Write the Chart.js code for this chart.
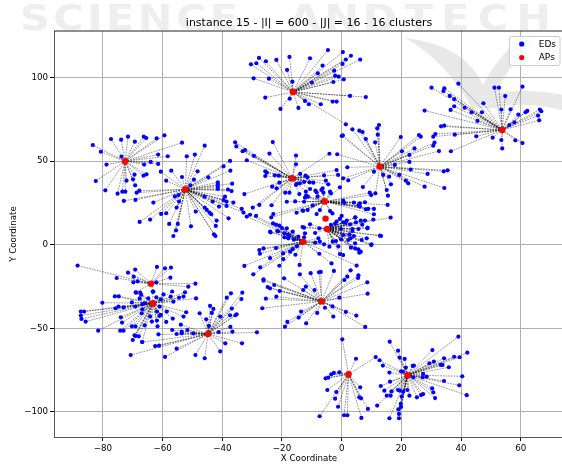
<!DOCTYPE html>
<html>
<head>
<meta charset="utf-8">
<title>instance 15</title>
<script src="https://cdn.jsdelivr.net/npm/chart.js@4/dist/chart.umd.js"></script>
<style>
  html, body { margin: 0; padding: 0; background: #fff; overflow: hidden; }
  #wrap { width: 562px; height: 465px; overflow: hidden; }
</style>
</head>
<body>
<div id="wrap"><canvas id="chart" width="570" height="465"></canvas></div>
<script>
const titleText = "instance 15 - |I| = 600 - |J| = 16 - 16 clusters";
const xTicks = [-80, -60, -40, -20, 0, 20, 40, 60];
const yTicks = [-100, -50, 0, 50, 100];

// access points, same order as the clusters below
const apX = [-72.6, -52.4, -16.3, -16.6, -5.7, 12.8, 53.8, -5.4, -4.9, -12.9, -6.7, -63.9, -63.3, -44.8, 2.3, 22.1];
const apY = [49.9, 33.1, 91.3, 39.7, 25.8, 46.7, 68.6, 15.6, 9.4, 1.8, -33.9, -23.3, -35, -53.4, -77.5, -78];

const cluster0 = [[-83.4,59.6],[-80.7,55.6],[-77.3,63.2],[-73.9,62.8],[-71.6,64.6],[-69.3,61.6],[-66.3,64.6],[-65.5,63.8],[-62,63.6],[-59.4,65.4],[-53.5,61],[-61.5,53.9],[-58.3,52.9],[-64,49.5],[-66.2,47.9],[-61.5,48.3],[-78.8,47.9],[-73.8,52.7],[-82.4,38.1],[-79.2,32.5],[-75.1,30.5],[-73.5,31.7],[-72.5,31.7],[-72.1,38.3],[-69.9,39.1],[-69.4,41.9],[-69.2,35.5],[-66.4,41.3],[-65.4,42.1]];
const cluster1 = [[-73,26.2],[-69.1,26.8],[-68.7,31.1],[-67.8,32.3],[-51.9,52.9],[-49.2,53.9],[-45.9,59.2],[-57.1,44.3],[-53.5,40.5],[-48.3,43.9],[-49.5,38.9],[-60.6,43.7],[-58.8,38.3],[-44.7,40.3],[-39.6,46.9],[-37.4,50.1],[-37.3,44.3],[-41.5,37.3],[-41.5,35.9],[-41.5,34.5],[-36.7,36.5],[-41.5,33.3],[-38.1,33],[-36.9,32.1],[-39.1,28.7],[-39.6,26.8],[-38.6,25.8],[-36.3,25.2],[-38.6,23.2],[-41.1,22.8],[-43.2,25.8],[-46,28.7],[-50.7,35.5],[-55.9,28.9],[-54.7,29.7],[-54.5,25.8],[-63.1,25.2],[-55.3,22.2],[-60.5,18.4],[-58.8,18.8],[-67.7,13.6],[-64.2,15],[-57.8,12.4],[-54.9,12.4],[-55.5,8.6],[-56.4,5.2],[-50.5,11],[-48.9,19.8],[-45.2,20.8],[-44.3,19.2],[-43.7,18.2],[-45.9,22.2],[-41.9,14.4],[-42.2,11.2],[-42.8,6.2],[-42.3,5.2],[-37.9,15.8],[-33.5,21.4],[-32.9,19.2]];
const cluster2 = [[-30.4,107.9],[-27.7,111.7],[-28.6,108.5],[-25.4,109.7],[-21.9,110.5],[-17.5,112.3],[-18.3,104.5],[-29.5,99.5],[-24.4,99.3],[-16.5,97.5],[-25.6,88],[-17.4,87.3],[-20.5,81.2],[-14.5,81.8],[-12.3,86],[-11,84],[-10.6,111.5],[-4.6,116.4],[0.4,115.2],[3.1,113],[1.4,110.7],[6.2,110.7],[0.3,108.1],[-6.4,107.1],[-2.5,104.1],[-2.2,101.1],[-1,100.5],[0.7,98.9],[-2.8,97.3],[2.8,89],[8.1,88.3],[-3,85.6],[-1.7,85.6],[-7,84],[1.4,72],[-8,102.5],[-10,97]];
const cluster3 = [[-35.7,61.2],[-35.3,58.8],[-33.2,55.9],[-32.4,56.6],[-29.4,53.1],[-31.8,50.5],[-23.1,61.4],[-24.2,54.5],[-15.3,53.3],[-15.3,48.1],[-25.6,43.9],[-25.1,43.1],[-25.6,41.1],[-22.4,41.5],[-21.1,41.3],[-23.3,34.7],[-20.9,37.1],[-21.8,33.7],[-32.6,30.3],[-27.6,23.8],[-29.8,22.2],[-23.5,23.6],[-18.9,31.1],[-17.5,31.1],[-15.3,35.7],[-13.9,42.3],[-4.1,54.4],[-1.7,44.6],[-1.2,41.7],[-5.9,41.4],[-12.1,41.3],[-11.5,40.3],[-14,36.7],[-15.1,36.3],[-12.6,37.5],[-10.8,37.3],[-9.5,37.1],[-10.6,33.3],[-14.2,30.3],[-12,31.7],[-5.3,38.3],[-4.5,36.1]];
const cluster4 = [[-18.4,25.7],[-15.6,25.9],[-12.6,25.7],[-12.3,28.1],[-11.3,28.7],[-8.8,32.3],[-6.8,32.7],[-6.4,33.7],[-6.1,31.1],[-3.9,31.7],[-0.6,34.3],[-8.1,28.7],[-9.7,23.5],[-7.3,20.7],[-8.4,18.3],[-12.9,20.3],[-11.4,20.7],[-15.1,19.1],[-22.9,18.3],[-23.6,16.3],[-3.9,20.1],[-3.1,18.7],[9.4,31.1],[9.9,29.7],[15.4,23.8],[10.8,21.4],[10.8,18.2],[8.9,21.4],[8.1,21.2],[7.8,25.4],[6.1,24.8],[5.6,23.4],[4.1,25.2],[6.1,22.8],[0.5,26.4],[0.9,25],[-3.6,30.7],[-8.4,31.3],[-11.9,29.4],[-13.1,20.4]];
const cluster5 = [[3.6,69],[5.9,68.2],[7,67.4],[0,65],[0.4,65.4],[8.1,63.2],[11.2,61.2],[11.9,69.6],[12.5,71.6],[12.1,65.8],[19.8,64.4],[25.9,65.6],[26.5,64.6],[31.1,61],[30.7,59.2],[24.4,57.6],[32.6,56],[20.2,55.9],[22.7,49.5],[22.7,53.7],[17.8,47.7],[-1.5,54.1],[1.9,46.3],[0.5,39.7],[2.2,38.5],[10.8,43.7],[7.1,34.5],[11.3,30.7],[15.1,32.7],[15.5,29.3],[16.5,36.1],[13.9,41.7],[19.3,41.7],[23.1,44.9],[21.5,38.3],[22.3,36.7],[27.8,34.7],[34.4,33.9],[28.8,42.3],[34.2,43.9],[35.5,44.5],[15.9,40.7]];
const cluster6 = [[39.1,96.3],[30.1,93.9],[34.4,93.5],[34.1,91.9],[36.2,89],[37.7,87.1],[47.5,84.6],[51.2,93.9],[52.7,93.9],[54.8,88.9],[60.6,94.5],[53.5,80.8],[56.6,81],[59.2,77.8],[62.2,80],[61.6,79.2],[66.4,80.8],[66.9,79.8],[65.8,77.2],[66.2,74.4],[57.9,73.2],[56.2,71.6],[37.7,82.8],[36.5,80.6],[27.8,80.2],[41.2,81.9],[43.5,79.2],[47,79.2],[45.5,74],[33.3,70.8],[34.4,71.2],[31.4,66.2],[30.7,64.6],[37.9,65.8],[45.1,64.8],[50.6,64],[36.6,55.9],[53.5,62.6],[53.8,57.6],[58.2,62.4],[60.6,60.8]];
// this AP has no links in the figure
const cluster7 = [];
const cluster8 = [[-10.6,12.2],[-13.1,10.6],[-12.6,10.2],[-8.9,7],[-7.5,9.8],[-3.6,11.8],[-2.2,12.6],[-1.7,13.8],[-0.6,15.4],[0.5,13.4],[1.7,14.4],[1.3,13.2],[2.8,12.2],[4.5,16.2],[6.4,14.4],[7.8,14.4],[10.6,15],[6.9,12],[4.8,13.4],[8.6,9.8],[5.6,9.4],[3.6,9.4],[3.6,8.2],[-0.2,9.4],[0.5,5.8],[2.6,6.2],[4.1,5.2],[8.4,3.8],[6.7,2.8],[10,0.2],[4.5,0.8],[2.2,2.8],[3,3.8],[-0.2,3.2],[-1.9,2.2],[-3,1.8],[-1.1,-1],[-4.1,-1.2],[3.1,-1.8],[4.5,-2.2],[5.9,-4.8],[-0.6,-5.6],[0.5,-6.2],[12.8,5.4],[4.6,16.4],[16.4,16.2],[0,17.2],[8.7,10.2],[13.2,5.2],[9.9,-0.2],[6.4,-4.2],[5.6,-2.8]];
const cluster9 = [[-20.9,11.4],[-21.6,8.2],[-23.8,7.4],[-18.4,9.8],[-16.4,7.8],[-19.2,6.8],[-19.2,4.4],[-17.5,5.2],[-17.9,3.8],[-14.5,4.8],[-12.6,4.4],[-12.3,6.8],[-7.8,3.8],[-7.3,1.8],[-8.9,1.2],[-5.9,0.2],[-7.5,-5.4],[-3.4,-11.2],[5,-12.5],[-14.1,-12.1],[-16.4,-2.6],[-17.3,-4.2],[-19.6,-5.2],[-19.6,-8.6],[-20.9,-12.6],[-26.2,-2.2],[-27.6,-3.2],[-27.4,-5.4],[-32.6,-12.7],[-27.3,-13.5],[-29.6,-17.7],[-31.8,16.8],[-28.7,17.2],[-30.7,17.9],[-24,7.8],[-23,12.8],[-21.3,8],[-22,12],[-20,10],[-18,6],[-16,3],[-15,-1],[-15.5,-6],[-22,-2],[-24,-8]];
const cluster10 = [[-14,-17.7],[-10.4,-17],[-7.6,-16.5],[-7,-16.3],[-2.6,-15.7],[3,-15.3],[1.9,-19.1],[5.6,-18.3],[5.5,-19.9],[0.9,-21.1],[8.6,-22.5],[8.7,-29.3],[-0.8,-31.7],[-3.1,-36.9],[1.4,-40.2],[4.9,-42.4],[7.9,-49.2],[-2.8,-43],[-5.6,-37.7],[-8.2,-40.8],[-11.9,-47],[-13.6,-40],[-14.4,-43.6],[-18.2,-46.2],[-19,-49],[-19.3,-20.1],[-12,-25.1],[-12.9,-27.1],[-9.1,-27.1],[-21.9,-31.1],[-22.6,-24.1],[-26.2,-20.7],[-26.2,-21.5],[-24.8,-25.3],[-24,-26.1],[-20.8,-27.7],[-25.4,-32.3],[-26.6,-38]];
const cluster11 = [[-88.5,-12.5],[-75.4,-19.9],[-71.6,-16.7],[-69.2,-14.9],[-69.7,-19.1],[-68.4,-21.9],[-69.8,-22.5],[-61.9,-13.3],[-59.2,-14.1],[-57.2,-13.7],[-57.4,-19.7],[-62.1,-22.5],[-49,-23.3],[-51.4,-25.1],[-63.1,-28.1],[-69,-28.5]];
const cluster12 = [[-80.2,-34.7],[-76,-30.9],[-74.7,-30.9],[-70.3,-34.5],[-68.9,-28.7],[-67.5,-28.7],[-67.2,-29.9],[-67.7,-32.1],[-69.1,-37],[-73.1,-37.5],[-74.8,-37],[-75.8,-38],[-87.4,-40],[-86.3,-40],[-87.4,-42.4],[-87.2,-44.4],[-85.8,-46],[-74,-43.4],[-73.6,-46.6],[-81.6,-51.4],[-74.2,-51.4],[-73.1,-51.4],[-70.3,-48.8],[-69.1,-48.8],[-66,-48.2],[-63.6,-46],[-61.7,-48.8],[-69.4,-54.2],[-69,-54.6],[-68,-54.8],[-70,-57],[-66.9,-58.2],[-66.8,-38.6],[-67,-41],[-64.2,-43],[-61.9,-45.4],[-61.9,-40],[-60.6,-42],[-61.1,-42.6],[-58.8,-46.2],[-58.6,-40],[-53,-43],[-52.1,-40.4],[-60.6,-32.7],[-61,-37],[-59.7,-29.7],[-56.8,-28],[-54.5,-31.7],[-52.5,-28.5],[-53,-31],[-48.8,-32.1],[-56.4,-34.1],[-57.3,-31.1],[-63.3,-28.1],[-64.8,-32.1],[-65.9,-35],[-66.8,-35.5],[-62.1,-31.5],[-56.6,-44.2]];
const cluster13 = [[-47.6,-41],[-45.4,-44.6],[-44.1,-36.6],[-43,-38.4],[-43.5,-40.8],[-44.5,-48.6],[-38.5,-31.7],[-37.1,-29.1],[-33.3,-28.7],[-33.6,-32.5],[-36.8,-38.2],[-40.7,-43],[-37.4,-42.2],[-35.6,-42.2],[-35.2,-41.6],[-37.3,-49.2],[-36.6,-52],[-41.2,-52.2],[-28.4,-52.4],[-39,-59],[-33.4,-59],[-40.7,-63.8],[-45.9,-67.9],[-49,-66],[-59.2,-67.1],[-55.3,-62.2],[-61.2,-60.4],[-62.5,-60.6],[-70.7,-66],[-66.8,-58.2],[-61.4,-53.6],[-56.8,-51],[-55.3,-53.4],[-53.6,-52],[-53.6,-53],[-51.7,-51],[-49.7,-53],[-53.9,-47.8]];
const cluster14 = [[0.2,-56.6],[4.8,-68.2],[11.4,-67.2],[-0.8,-76.3],[-2.6,-76.7],[-3.5,-77.5],[-4.5,-79.5],[-5.4,-79.9],[-4.8,-86.9],[-1.8,-88.1],[-2.2,-92.1],[-1.2,-96.9],[-7.4,-102.6],[0.8,-102],[1.9,-102],[6.6,-103.6],[8.8,-98.2],[5.9,-91.3],[6.5,-91.9],[6.2,-85.3]];
const cluster15 = [[16.1,-58],[18.9,-63.4],[19.4,-67.5],[21.1,-68.3],[21.5,-73.5],[12.7,-69.1],[13.8,-72.3],[16,-76.5],[19.9,-75.7],[20.5,-75.9],[16.2,-81.9],[13.1,-84.5],[14.3,-87.3],[15.1,-90.3],[16.4,-90.3],[16.7,-87.7],[18.9,-86.9],[19.5,-87.3],[22,-86.9],[20.6,-87.9],[20.1,-90.9],[22.7,-90.3],[25.2,-91.3],[26.6,-89.9],[27.3,-89.3],[30.3,-85.9],[30.7,-88.3],[31.3,-91.7],[34.3,-81.5],[39.4,-84.1],[40.4,-78.7],[41.9,-90],[28.5,-78.9],[27.3,-77.3],[27.1,-79.3],[24,-79.3],[23.8,-72.5],[24.2,-72.3],[30.4,-63],[39.1,-55],[42.1,-64.6],[37.7,-67],[39.5,-67.3],[34.3,-67.9],[35.9,-73.3],[29.4,-70.9],[30.9,-69.9],[33.2,-71.9],[33.8,-71.9],[11.9,-96.2],[16,-103.8],[19,-98.4],[19.2,-101.2],[19.2,-103.8],[19.8,-95.2],[19.9,-97]];

const clusters = [cluster0, cluster1, cluster2, cluster3, cluster4, cluster5, cluster6, cluster7, cluster8, cluster9, cluster10, cluster11, cluster12, cluster13, cluster14, cluster15];

Chart.defaults.font.family = "'DejaVu Sans'";
Chart.defaults.color = "#000";

const edPoints = [];
const apPoints = [];
const linkSets = [];

clusters.forEach(function (cluster, i) {
  const ap = { x: apX[i], y: apY[i] };
  apPoints.push(ap);
  cluster.forEach(function (p) {
    const ed = { x: p[0], y: p[1] };
    edPoints.push(ed);
    linkSets.push({
      label: "link",
      data: [ap, ed],
      showLine: true,
      pointRadius: 0,
      borderColor: "rgba(0, 0, 0, 0.5)",
      borderWidth: 0.8,
      borderDash: [1.8, 0.9],
      order: 3,
    });
  });
});

// paper watermark, sits behind everything
const watermark = {
  id: "watermark",
  beforeDraw(chart) {
    const ctx = chart.ctx;
    ctx.save();
    ctx.fillStyle = "#eeeeee";
    ctx.textBaseline = "alphabetic";
    ctx.save();
    ctx.scale(1.18, 1);
    ctx.font = "bold 35px 'DejaVu Sans'";
    ctx.letterSpacing = "3px";
    ctx.fillText("SCIENCE", 17, 30);
    ctx.fillText("AND", 245, 30);
    ctx.letterSpacing = "7px";
    ctx.fillText("TECHNO", 343, 30);
    ctx.restore();
    ctx.fillStyle = "#e8e8e8";
    ctx.beginPath();
    ctx.moveTo(405, 38);
    ctx.quadraticCurveTo(465, 45, 483, 85);
    ctx.quadraticCurveTo(495, 60, 522, 36);
    ctx.lineTo(532, 42);
    ctx.quadraticCurveTo(505, 70, 497, 93);
    ctx.quadraticCurveTo(530, 88, 570, 96);
    ctx.lineTo(570, 112);
    ctx.quadraticCurveTo(525, 100, 495, 108);
    ctx.lineTo(472, 108);
    ctx.quadraticCurveTo(445, 60, 405, 38);
    ctx.fill();
    ctx.restore();
  },
};

// top spine and legend box
const frame = {
  id: "frame",
  afterDraw(chart) {
    const ctx = chart.ctx;
    const area = chart.chartArea;
    ctx.save();
    ctx.strokeStyle = "#222";
    ctx.lineWidth = 1;
    ctx.beginPath();
    ctx.moveTo(area.left, area.top);
    ctx.lineTo(area.right, area.top);
    ctx.stroke();

    ctx.fillStyle = "rgba(255, 255, 255, 0.8)";
    ctx.strokeStyle = "#ccc";
    ctx.beginPath();
    ctx.roundRect(509.5, 36.5, 50.5, 29, 2);
    ctx.fill();
    ctx.stroke();

    ctx.font = "9px 'DejaVu Sans'";
    ctx.textBaseline = "middle";
    [0, 1].forEach(function (i) {
      const set = chart.data.datasets[i];
      const y = 44 + i * 13.5;
      ctx.fillStyle = set.backgroundColor;
      ctx.beginPath();
      ctx.arc(521.7, y, 2.6, 0, Math.PI * 2);
      ctx.fill();
      ctx.fillStyle = "#000";
      ctx.fillText(set.label, 538.7, y + 0.5);
    });
    ctx.restore();
  },
};

new Chart(document.getElementById("chart"), {
  type: "scatter",
  data: {
    datasets: [
      { label: "EDs", data: edPoints, backgroundColor: "#0000ff", borderColor: "#0000ff", pointRadius: 2.1, borderWidth: 0, order: 2 },
      { label: "APs", data: apPoints, backgroundColor: "#ff0000", borderColor: "#ff0000", pointRadius: 3.2, borderWidth: 0, order: 1 },
    ].concat(linkSets),
  },
  plugins: [watermark, frame],
  options: {
    responsive: false,
    animation: false,
    layout: { padding: { right: 6 } },
    plugins: {
      title: {
        display: true,
        text: titleText,
        fullSize: false,
        font: { size: 11, weight: "normal" },
        padding: { top: 16.5, bottom: 1.3 },
      },
      legend: { display: false },
      tooltip: { enabled: false },
    },
    scales: {
      x: {
        type: "linear",
        min: -96.4,
        max: 74.5,
        afterBuildTicks: function (axis) { axis.ticks = xTicks.map(function (v) { return { value: v }; }); },
        afterFit: function (axis) { axis.height = 28; },
        grid: { color: "#b0b0b0", lineWidth: 1, tickColor: "#000", tickLength: 4 },
        border: { color: "#555", width: 1 },
        ticks: {
          font: { size: 8.7 },
          padding: 3,
          maxRotation: 0,
          autoSkip: false,
          callback: function (v) { return String(v).replace("-", "\u2212"); },
        },
        title: { display: true, text: "X Coordinate", font: { size: 8.7 }, padding: { top: 0, bottom: 1 } },
      },
      y: {
        type: "linear",
        min: -115,
        max: 127.8,
        afterBuildTicks: function (axis) { axis.ticks = yTicks.map(function (v) { return { value: v }; }); },
        afterFit: function (axis) { axis.width = 54; },
        grid: { color: "#b0b0b0", lineWidth: 1, tickColor: "#000", tickLength: 4 },
        border: { color: "#555", width: 1 },
        ticks: {
          font: { size: 8.7 },
          padding: 2,
          autoSkip: false,
          callback: function (v) { return String(v).replace("-", "\u2212"); },
        },
        title: { display: true, text: "Y Coordinate", font: { size: 8.7 }, padding: { top: 9, bottom: 0 } },
      },
    },
  },
});
</script>
</body>
</html>
